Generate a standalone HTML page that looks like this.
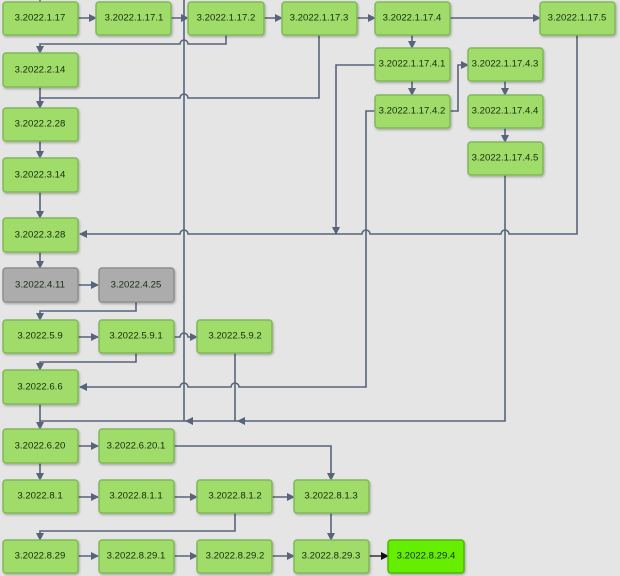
<!DOCTYPE html>
<html><head><meta charset="utf-8"><style>
html,body{margin:0;padding:0;background:#e5e5e5;}
svg{display:block;}
text{font-family:"Liberation Sans",sans-serif;font-size:9.6px;fill:#1a2a10;text-anchor:middle;dominant-baseline:central;}
.n{fill:#a0dc6a;stroke:#80b858;stroke-width:1.5;}
.g{fill:#acacac;stroke:#8e8e8e;stroke-width:1.5;}
.h{fill:#66ee00;stroke:#4cb800;stroke-width:1.5;}
.l{fill:none;stroke:#586479;stroke-width:1.6;}
</style></head><body>
<svg width="620" height="576" viewBox="0 0 620 576" xmlns="http://www.w3.org/2000/svg">
<defs>
<marker id="a" markerWidth="8" markerHeight="8" refX="7" refY="4" orient="auto" markerUnits="userSpaceOnUse"><path d="M0,0 L8,4 L0,8 z" fill="#586479"/></marker>
<marker id="b" markerWidth="8" markerHeight="8" refX="7" refY="4" orient="auto" markerUnits="userSpaceOnUse"><path d="M0,0 L8,4 L0,8 z" fill="#111"/></marker>
<filter id="s" x="-10%" y="-10%" width="130%" height="140%"><feDropShadow dx="1" dy="1.5" stdDeviation="1" flood-color="#000" flood-opacity="0.25"/></filter>
</defs>
<g class="l">
<path d="M40,0 V2"/>
<path d="M184,0 V421"/>
<path d="M78,18 H96" marker-end="url(#a)"/>
<path d="M171,18 H188" marker-end="url(#a)"/>
<path d="M264,18 H282" marker-end="url(#a)"/>
<path d="M357,18 H375" marker-end="url(#a)"/>
<path d="M450,18 H540" marker-end="url(#a)"/>
<path d="M226,35 V44 H188 a4,4 0 0 0 -8,0 H40 V53" marker-end="url(#a)"/>
<path d="M319,35 V98 H188 a4,4 0 0 0 -8,0 H40 V108" marker-end="url(#a)"/>
<path d="M40,87 V108"/>
<path d="M40,141 V158" marker-end="url(#a)"/>
<path d="M40,192 V218" marker-end="url(#a)"/>
<path d="M40,252 V268" marker-end="url(#a)"/>
<path d="M412,35 V48" marker-end="url(#a)"/>
<path d="M412,81 V95" marker-end="url(#a)"/>
<path d="M450,111 H458 V65 H468" marker-end="url(#a)"/>
<path d="M505,81 V95" marker-end="url(#a)"/>
<path d="M505,128 V142" marker-end="url(#a)"/>
<path d="M577,35 V234 H509 a4,4 0 0 0 -8,0 H370 a4,4 0 0 0 -8,0 H188 a4,4 0 0 0 -8,0 H80" marker-end="url(#a)"/>
<path d="M375,65 H336 V234" marker-end="url(#a)"/>
<path d="M375,111 H366 V387 H239 a4,4 0 0 0 -8,0 H188 a4,4 0 0 0 -8,0 H80" marker-end="url(#a)"/>
<path d="M505,175 V421 H40 V429" marker-end="url(#a)"/>
<path d="M240,421 H238" marker-end="url(#a)"/>
<path d="M189,421 H186" marker-end="url(#a)"/>
<path d="M78,285 H98" marker-end="url(#a)"/>
<path d="M136,302 V311 H40 V320" marker-end="url(#a)"/>
<path d="M78,337 H98" marker-end="url(#a)"/>
<path d="M174,337 H180 a4,4 0 0 1 8,0 H197" marker-end="url(#a)"/>
<path d="M136,353 V362 H40 V370" marker-end="url(#a)"/>
<path d="M235,353 V421"/>
<path d="M40,404 V421"/>
<path d="M78,446 H98" marker-end="url(#a)"/>
<path d="M174,446 H331 V480" marker-end="url(#a)"/>
<path d="M40,463 V480" marker-end="url(#a)"/>
<path d="M78,497 H98" marker-end="url(#a)"/>
<path d="M174,497 H197" marker-end="url(#a)"/>
<path d="M272,497 H294" marker-end="url(#a)"/>
<path d="M235,513 V531 H40 V540" marker-end="url(#a)"/>
<path d="M331,513 V540" marker-end="url(#a)"/>
<path d="M78,556 H98" marker-end="url(#a)"/>
<path d="M174,556 H197" marker-end="url(#a)"/>
<path d="M272,556 H294" marker-end="url(#a)"/>
</g>
<path d="M369,556 H388" stroke="#111" stroke-width="1.3" marker-end="url(#b)"/>
<g filter="url(#s)">
<rect class="n" x="3" y="2" width="75" height="33" rx="3"/>
<rect class="n" x="96" y="2" width="75" height="33" rx="3"/>
<rect class="n" x="188" y="2" width="76" height="33" rx="3"/>
<rect class="n" x="282" y="2" width="75" height="33" rx="3"/>
<rect class="n" x="375" y="2" width="75" height="33" rx="3"/>
<rect class="n" x="540" y="2" width="75" height="33" rx="3"/>
<rect class="n" x="375" y="48" width="75" height="33" rx="3"/>
<rect class="n" x="375" y="95" width="75" height="33" rx="3"/>
<rect class="n" x="468" y="48" width="75" height="33" rx="3"/>
<rect class="n" x="468" y="95" width="75" height="33" rx="3"/>
<rect class="n" x="468" y="142" width="75" height="33" rx="3"/>
<rect class="n" x="3" y="53" width="75" height="34" rx="3"/>
<rect class="n" x="3" y="108" width="75" height="33" rx="3"/>
<rect class="n" x="3" y="158" width="75" height="34" rx="3"/>
<rect class="n" x="3" y="218" width="75" height="34" rx="3"/>
<rect class="g" x="3" y="268" width="75" height="34" rx="3"/>
<rect class="g" x="99" y="268" width="75" height="34" rx="3"/>
<rect class="n" x="3" y="320" width="75" height="33" rx="3"/>
<rect class="n" x="99" y="320" width="75" height="33" rx="3"/>
<rect class="n" x="197" y="320" width="75" height="33" rx="3"/>
<rect class="n" x="3" y="370" width="75" height="34" rx="3"/>
<rect class="n" x="3" y="429" width="75" height="34" rx="3"/>
<rect class="n" x="99" y="429" width="75" height="34" rx="3"/>
<rect class="n" x="3" y="480" width="75" height="33" rx="3"/>
<rect class="n" x="99" y="480" width="75" height="33" rx="3"/>
<rect class="n" x="197" y="480" width="75" height="33" rx="3"/>
<rect class="n" x="294" y="480" width="75" height="33" rx="3"/>
<rect class="n" x="3" y="540" width="75" height="33" rx="3"/>
<rect class="n" x="99" y="540" width="75" height="33" rx="3"/>
<rect class="n" x="197" y="540" width="75" height="33" rx="3"/>
<rect class="n" x="294" y="540" width="75" height="33" rx="3"/>
<rect class="h" x="388" y="540" width="76" height="33" rx="3"/>
</g>
<text x="40" y="18">3.2022.1.17</text>
<text x="134" y="18">3.2022.1.17.1</text>
<text x="226" y="18">3.2022.1.17.2</text>
<text x="319" y="18">3.2022.1.17.3</text>
<text x="412" y="18">3.2022.1.17.4</text>
<text x="577" y="18">3.2022.1.17.5</text>
<text x="412" y="64">3.2022.1.17.4.1</text>
<text x="412" y="111">3.2022.1.17.4.2</text>
<text x="505" y="64">3.2022.1.17.4.3</text>
<text x="505" y="111">3.2022.1.17.4.4</text>
<text x="505" y="158">3.2022.1.17.4.5</text>
<text x="40" y="70">3.2022.2.14</text>
<text x="40" y="124">3.2022.2.28</text>
<text x="40" y="175">3.2022.3.14</text>
<text x="40" y="235">3.2022.3.28</text>
<text x="40" y="285">3.2022.4.11</text>
<text x="136" y="285">3.2022.4.25</text>
<text x="40" y="336">3.2022.5.9</text>
<text x="136" y="336">3.2022.5.9.1</text>
<text x="235" y="336">3.2022.5.9.2</text>
<text x="40" y="387">3.2022.6.6</text>
<text x="40" y="446">3.2022.6.20</text>
<text x="136" y="446">3.2022.6.20.1</text>
<text x="40" y="496">3.2022.8.1</text>
<text x="136" y="496">3.2022.8.1.1</text>
<text x="235" y="496">3.2022.8.1.2</text>
<text x="331" y="496">3.2022.8.1.3</text>
<text x="40" y="556">3.2022.8.29</text>
<text x="136" y="556">3.2022.8.29.1</text>
<text x="235" y="556">3.2022.8.29.2</text>
<text x="331" y="556">3.2022.8.29.3</text>
<text x="426" y="556">3.2022.8.29.4</text>
</svg>
</body></html>
